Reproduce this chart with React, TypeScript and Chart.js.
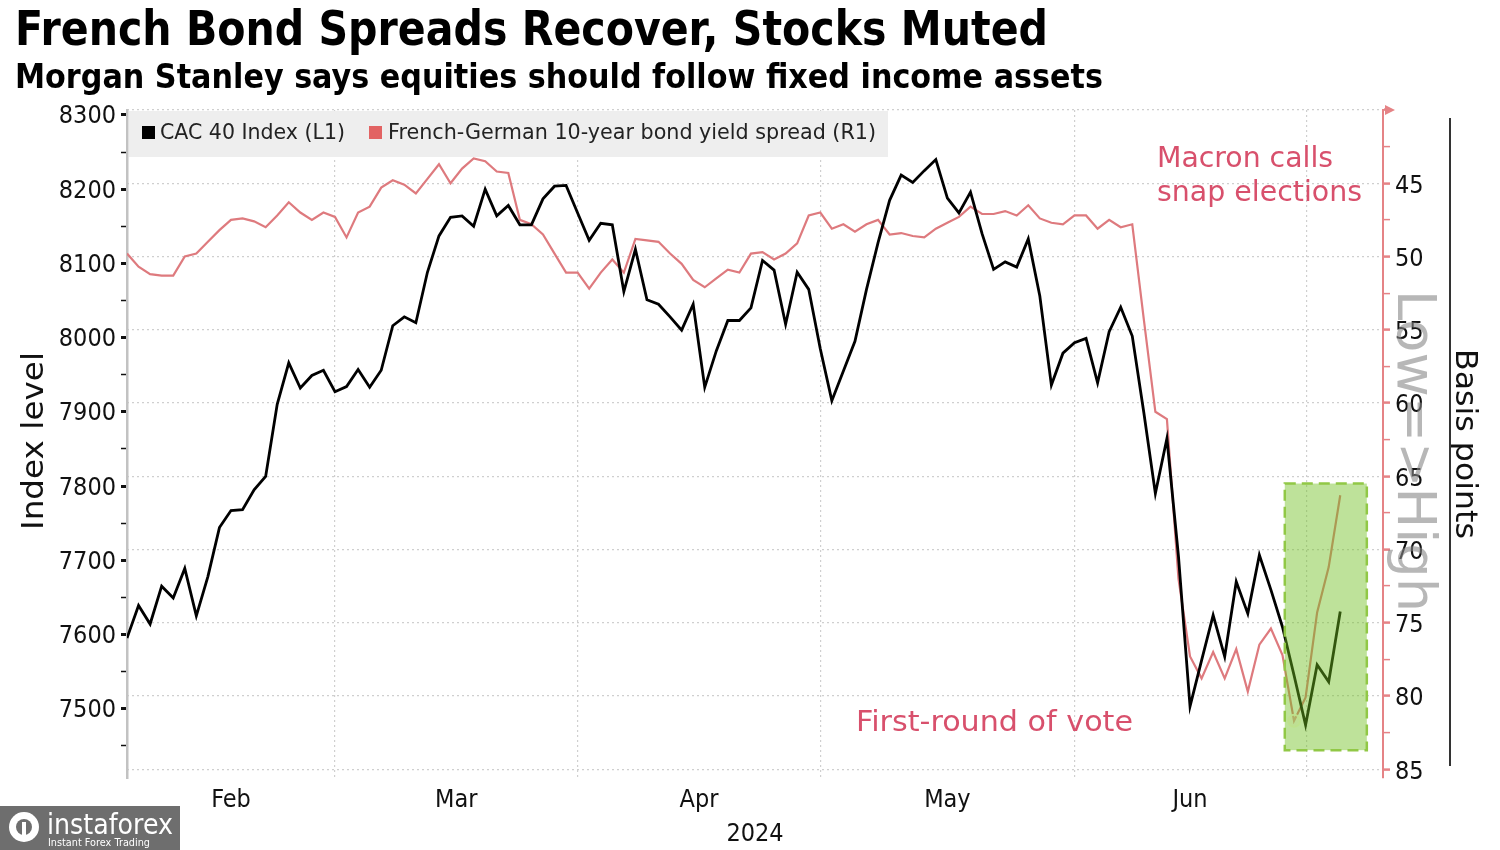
import React, { useEffect, useRef } from 'react';
import { Chart, registerables } from 'chart.js';

Chart.register(...registerables);

const TICK_FONT = "'DejaVu Sans Condensed', 'DejaVu Sans', sans-serif";
const TEXT_FONT = "'DejaVu Sans', sans-serif";

const SPREAD_COLOR = '#de7a7e';
const SPREAD_AXIS = '#e58386';
const LEGEND_RED = '#e26363';
const ANNOT_COLOR = '#d8506c';

// CAC 40 index, one value per trading day (early Feb -> 3 Jul 2024)
const cacValues: number[] = [
  7595, 7639, 7614, 7665, 7649, 7689, 7625, 7678, 7744, 7767,
  7768, 7795, 7813, 7910, 7966, 7932, 7949, 7956, 7927, 7934,
  7957, 7933, 7956, 8016, 8028, 8020, 8088, 8137, 8162, 8164,
  8150, 8200, 8164, 8178, 8152, 8152, 8187, 8204, 8205, 8168,
  8131, 8154, 8152, 8062, 8119, 8051, 8045, 8028, 8010, 8045,
  7933, 7982, 8023, 8023, 8040, 8104, 8091, 8018, 8088, 8065,
  7985, 7915, 7955, 7995, 8065, 8128, 8185, 8219, 8209, 8225,
  8240, 8188, 8168, 8196, 8140, 8092, 8102, 8095, 8133, 8056,
  7936, 7979, 7993, 7999, 7939, 8008, 8041, 8002, 7899, 7790,
  7864, 7705, 7503, 7565, 7626, 7570, 7671, 7628, 7707, 7660,
  7610, 7545, 7478, 7559, 7536, 7631,
];

// French-German 10y spread, basis points
const spreadValues: number[] = [
  49.8, 50.7, 51.2, 51.3, 51.3, 50.0, 49.8, 49.0, 48.2, 47.5,
  47.4, 47.6, 48.0, 47.2, 46.3, 47.0, 47.5, 47.0, 47.3, 48.7,
  47.0, 46.6, 45.3, 44.8, 45.1, 45.7, 44.7, 43.7, 45.0, 44.0,
  43.3, 43.5, 44.2, 44.3, 47.5, 47.8, 48.5, 49.8, 51.1, 51.1,
  52.2, 51.1, 50.2, 51.1, 48.8, 48.9, 49.0, 49.8, 50.5, 51.6,
  52.1, 51.5, 50.9, 51.1, 49.8, 49.7, 50.2, 49.8, 49.1, 47.2,
  47.0, 48.1, 47.8, 48.3, 47.8, 47.5, 48.5, 48.4, 48.6, 48.7,
  48.1, 47.7, 47.3, 46.6, 47.1, 47.1, 46.9, 47.2, 46.5, 47.4,
  47.7, 47.8, 47.2, 47.2, 48.1, 47.5, 48.0, 47.8, 54.3, 60.6,
  61.1, 72.0, 77.3, 78.8, 77.0, 78.8, 76.8, 79.7, 76.5, 75.4,
  77.2, 81.7, 80.1, 74.3, 71.2, 66.3,
];

const seriesLabels = ['CAC 40 Index (L1)', 'French-German 10-year bond yield spread (R1)'];

const monthStarts = [18, 39, 60, 82, 102.1];
const monthNames = ['Feb', 'Mar', 'Apr', 'May', 'Jun'];
const monthCentres = [9, 28.5, 49.5, 71, 92];
const yearLabel = '2024';

const leftMajorTicks = [7500, 7600, 7700, 7800, 7900, 8000, 8100, 8200, 8300];
const leftMinorTicks = [7450, 7550, 7650, 7750, 7850, 7950, 8050, 8150, 8250];
const rightMajorTicks = [40, 45, 50, 55, 60, 65, 70, 75, 80, 85];
const rightMinorTicks = [42.5, 47.5, 52.5, 57.5, 62.5, 67.5, 72.5, 77.5, 82.5];
const rightHiddenLabels = [40];

const xRange = { min: 0, max: 108.7 };
const leftRange = { min: 7406.5, max: 8306.7 };
const rightRange = { min: 40, max: 85.6 };

const highlight = { x0: 100.2, x1: 107.3, y0: 65.5, y1: 83.7 };
const markerIndex = 101;

type TextOpts = {
  font: string;
  color: string;
  width?: number;
  align?: 'left' | 'center' | 'right';
  baseline?: CanvasTextBaseline;
  rotate?: number;
};

function drawText(ctx: CanvasRenderingContext2D, text: string, x: number, y: number, o: TextOpts) {
  ctx.save();
  ctx.font = o.font;
  ctx.fillStyle = o.color;
  ctx.textBaseline = o.baseline || 'alphabetic';
  ctx.textAlign = 'left';
  ctx.translate(x, y);
  if (o.rotate) ctx.rotate(o.rotate);
  const w = ctx.measureText(text).width;
  const sx = o.width ? o.width / w : 1;
  ctx.scale(sx, 1);
  const align = o.align || 'left';
  const dx = align === 'center' ? -w / 2 : align === 'right' ? -w : 0;
  ctx.fillText(text, dx, 0);
  ctx.restore();
}

const decorPlugin = {
  id: 'decor',
  beforeDatasetsDraw(chart: any) {
    const ctx: CanvasRenderingContext2D = chart.ctx;
    ctx.save();
    ctx.fillStyle = '#eeeeee';
    ctx.fillRect(129, 111, 759, 46);
    ctx.fillStyle = '#000000';
    ctx.fillRect(142, 126, 13, 13);
    ctx.fillStyle = LEGEND_RED;
    ctx.fillRect(369, 126, 13, 13);
    ctx.restore();
    drawText(ctx, seriesLabels[0], 160, 133, { font: `22px ${TEXT_FONT}`, color: '#222', baseline: 'middle', width: 185 });
    drawText(ctx, seriesLabels[1], 388, 133, { font: `22px ${TEXT_FONT}`, color: '#222', baseline: 'middle', width: 488 });
  },
  afterDatasetsDraw(chart: any) {
    const ctx: CanvasRenderingContext2D = chart.ctx;
    const xs = chart.scales.x;
    const ys = chart.scales.yR;
    const l = xs.getPixelForValue(highlight.x0);
    const r = xs.getPixelForValue(highlight.x1);
    const t = ys.getPixelForValue(highlight.y0);
    const b = ys.getPixelForValue(highlight.y1);
    ctx.save();
    ctx.fillStyle = 'rgba(110,190,30,0.45)';
    ctx.fillRect(l, t, r - l, b - t);
    ctx.setLineDash([11, 6]);
    ctx.lineWidth = 2.5;
    ctx.strokeStyle = 'rgba(145,200,70,1)';
    ctx.strokeRect(l, t, r - l, b - t);
    ctx.restore();
  },
  afterDraw(chart: any) {
    const ctx: CanvasRenderingContext2D = chart.ctx;
    // titles
    drawText(ctx, 'French Bond Spreads Recover, Stocks Muted', 15, 45, { font: `bold 48px ${TEXT_FONT}`, color: '#000', width: 1033 });
    drawText(ctx, 'Morgan Stanley says equities should follow fixed income assets', 15, 88, { font: `bold 34px ${TEXT_FONT}`, color: '#000', width: 1088 });
    // axis titles
    drawText(ctx, 'Index level', 43, 530, { font: `31px ${TEXT_FONT}`, color: '#111', rotate: -Math.PI / 2, width: 178 });
    drawText(ctx, 'Basis points', 1456, 349, { font: `31px ${TEXT_FONT}`, color: '#111', rotate: Math.PI / 2, width: 190 });
    drawText(ctx, yearLabel, 755, 841, { font: `25px ${TICK_FONT}`, color: '#111', align: 'center' });
    // separator line
    ctx.save();
    ctx.strokeStyle = '#333';
    ctx.lineWidth = 2;
    ctx.beginPath();
    ctx.moveTo(1450, 118);
    ctx.lineTo(1450, 766);
    ctx.stroke();
    // arrow head at top of right axis
    ctx.fillStyle = SPREAD_AXIS;
    ctx.beginPath();
    ctx.moveTo(1385, 105);
    ctx.lineTo(1395, 110);
    ctx.lineTo(1385, 115);
    ctx.closePath();
    ctx.fill();
    ctx.restore();
    // annotations
    drawText(ctx, 'Macron calls', 1157, 167, { font: `29px ${TEXT_FONT}`, color: ANNOT_COLOR, width: 176 });
    drawText(ctx, 'snap elections', 1157, 201, { font: `29px ${TEXT_FONT}`, color: ANNOT_COLOR, width: 205 });
    drawText(ctx, 'First-round of vote', 856, 731, { font: `29px ${TEXT_FONT}`, color: ANNOT_COLOR, width: 277 });
    // watermark
    drawText(ctx, 'Low=>High', 1398, 290, { font: `54px ${TEXT_FONT}`, color: 'rgba(135,135,135,0.6)', rotate: Math.PI / 2, width: 322 });
    // logo
    ctx.save();
    ctx.fillStyle = '#6e6e6e';
    ctx.fillRect(0, 806, 180, 44);
    ctx.fillStyle = '#ffffff';
    ctx.beginPath();
    ctx.arc(24, 827, 15, 0, Math.PI * 2);
    ctx.fill();
    ctx.fillStyle = '#6e6e6e';
    ctx.beginPath();
    ctx.arc(24, 827, 8, 0, Math.PI * 2);
    ctx.fill();
    ctx.fillStyle = '#ffffff';
    ctx.fillRect(22, 822, 4, 18);
    ctx.restore();
    drawText(ctx, 'instaforex', 47, 834, { font: `28px ${TEXT_FONT}`, color: '#ffffff', width: 126 });
    drawText(ctx, 'Instant Forex Trading', 48, 846, { font: `11px ${TEXT_FONT}`, color: '#ffffff', width: 102 });
  },
};

export default function App() {
  const canvasRef = useRef<HTMLCanvasElement | null>(null);

  useEffect(() => {
    if (!canvasRef.current) return;
    const cacData = cacValues.map((v, i) => ({ x: i, y: v }));
    const spreadData = spreadValues.map((v, i) => ({ x: i, y: v }));
    const xTickValues = [...monthStarts, ...monthCentres].sort((a, b) => a - b);
    const leftTickValues = [...leftMajorTicks, ...leftMinorTicks].sort((a, b) => a - b);
    const rightTickValues = [...rightMajorTicks, ...rightMinorTicks].sort((a, b) => a - b);

    const chart = new Chart(canvasRef.current, {
      type: 'line',
      data: {
        datasets: [
          {
            label: seriesLabels[0],
            data: cacData,
            yAxisID: 'yL',
            borderColor: '#000000',
            borderWidth: 2.8,
            pointRadius: 0,
            tension: 0,
          },
          {
            label: seriesLabels[1],
            data: spreadData,
            yAxisID: 'yR',
            borderColor: SPREAD_COLOR,
            borderWidth: 2.2,
            tension: 0,
            pointRadius: (c: any) => (c.dataIndex === markerIndex ? 6 : 0),
            pointBorderColor: 'rgba(255,255,230,0.95)',
            pointBackgroundColor: 'rgba(255,240,220,0.35)',
            pointBorderWidth: 2,
          },
        ],
      },
      options: {
        responsive: false,
        animation: false,
        events: [],
        layout: { padding: { top: 110, left: 0, right: 0, bottom: 0 } },
        plugins: {
          legend: { display: false },
          tooltip: { enabled: false },
          title: { display: false },
        },
        scales: {
          x: {
            type: 'linear',
            position: 'bottom',
            min: xRange.min,
            max: xRange.max,
            afterBuildTicks: (s: any) => {
              s.ticks = xTickValues.map((v) => ({ value: v }));
            },
            afterFit: (s: any) => {
              s.height = 72;
            },
            ticks: {
              autoSkip: false,
              maxRotation: 0,
              minRotation: 0,
              padding: 7,
              color: '#111',
              font: { family: TICK_FONT, size: 25 },
              callback: (v: any) => {
                const i = monthCentres.indexOf(Number(v));
                return i >= 0 ? monthNames[i] : '';
              },
            },
            grid: {
              drawTicks: false,
              lineWidth: 1.2,
              color: (c: any) => (c.tick && monthStarts.includes(c.tick.value) ? '#cfcfcf' : 'rgba(0,0,0,0)'),
            },
            border: { display: false, dash: [2, 3] },
          },
          yL: {
            type: 'linear',
            position: 'left',
            min: leftRange.min,
            max: leftRange.max,
            afterBuildTicks: (s: any) => {
              s.ticks = leftTickValues.map((v) => ({ value: v }));
            },
            afterFit: (s: any) => {
              s.width = 127;
            },
            ticks: {
              autoSkip: false,
              padding: 5,
              labelOffset: 2,
              color: '#111',
              font: { family: TICK_FONT, size: 25 },
              callback: (v: any) => (leftMajorTicks.includes(Number(v)) ? String(v) : ''),
            },
            grid: {
              drawOnChartArea: false,
              drawTicks: true,
              tickLength: 6,
              tickColor: '#111',
              tickWidth: (c: any) => (c.tick && leftMajorTicks.includes(c.tick.value) ? 3 : 1.5),
            },
            border: { display: true, color: '#c2c2c2', width: 2.5 },
          },
          yR: {
            type: 'linear',
            position: 'right',
            reverse: true,
            min: rightRange.min,
            max: rightRange.max,
            afterBuildTicks: (s: any) => {
              s.ticks = rightTickValues.map((v) => ({ value: v }));
            },
            afterFit: (s: any) => {
              s.width = 117;
            },
            ticks: {
              autoSkip: false,
              padding: 5,
              labelOffset: 3,
              color: '#111',
              font: { family: TICK_FONT, size: 25 },
              callback: (v: any) => {
                const n = Number(v);
                return rightMajorTicks.includes(n) && !rightHiddenLabels.includes(n) ? String(n) : '';
              },
            },
            grid: {
              drawOnChartArea: true,
              drawTicks: true,
              tickLength: 7,
              lineWidth: 1.2,
              color: (c: any) => (c.tick && rightMajorTicks.includes(c.tick.value) ? '#cfcfcf' : 'rgba(0,0,0,0)'),
              tickColor: SPREAD_AXIS,
              tickWidth: (c: any) => (c.tick && rightMajorTicks.includes(c.tick.value) ? 2.5 : 1.5),
            },
            border: { display: true, color: SPREAD_AXIS, width: 2, dash: [2, 3] },
          },
        },
      } as any,
      plugins: [decorPlugin as any],
    });
    return () => chart.destroy();
  }, []);

  return (
    <div style={{ position: 'absolute', left: 0, top: 0, width: 1500, height: 850, background: '#ffffff' }}>
      <canvas ref={canvasRef} width={1500} height={850} style={{ display: 'block' }} />
    </div>
  );
}
